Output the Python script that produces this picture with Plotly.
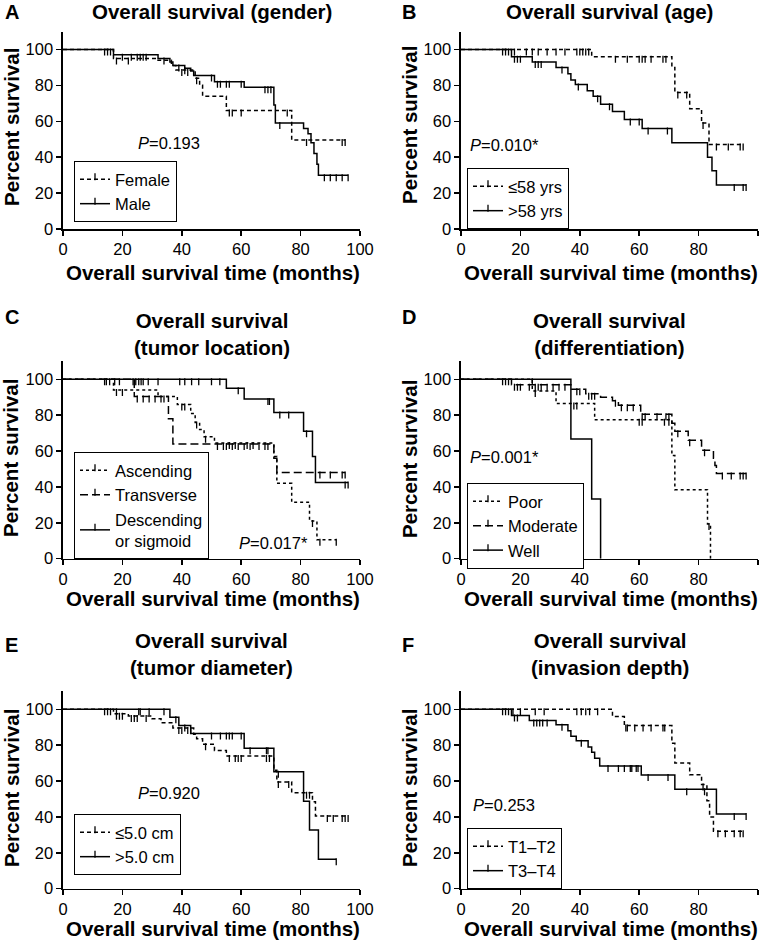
import plotly.graph_objects as go

W, H = 771, 944
FONT = "Liberation Sans, Arial, sans-serif"

# ---------------- data ----------------
titles = ["Overall survival (gender)", "Overall survival (age)",
          "Overall survival<br>(tumor location)", "Overall survival<br>(differentiation)",
          "Overall survival<br>(tumor diameter)", "Overall survival<br>(invasion depth)"]
panel_letters = ["A", "B", "C", "D", "E", "F"]
p_texts = ["<i>P</i>=0.193", "<i>P</i>=0.010*", "<i>P</i>=0.017*",
           "<i>P</i>=0.001*", "<i>P</i>=0.920", "<i>P</i>=0.253"]
p_x = [35.7, 14.5, 71.0, 14.5, 35.7, 14.5]
p_y = [47.9, 46.7, 8.7, 56.7, 53.3, 46.7]
x_ticks = [0, 20, 40, 60, 80, 100]
y_ticks = [0, 20, 40, 60, 80, 100]
x_title = "Overall survival time (months)"
y_title = "Percent survival"

# A: gender
a_female_t = [17, 32, 36.5, 38, 44.5, 46, 47, 55, 77]
a_female_s = [95, 94, 91, 88.5, 84, 80, 74, 66, 49.5]
a_female_c = [18, 22, 40, 42, 45, 56, 57, 60, 75.5, 82, 94, 95]
a_male_t = [17, 32, 36, 37, 41, 43, 44, 51, 61, 71, 71.5, 81, 82.5, 83.5, 84.5, 85.5, 86]
a_male_s = [97, 95, 93, 91, 89.5, 88, 85.5, 82, 79, 69, 59, 56, 53, 48, 42, 36, 30]
a_male_c = [14, 15, 16, 20, 23, 25, 26, 27, 28, 34, 39, 41, 50, 52, 53, 55, 56, 60,
            68, 69, 70, 73, 88, 90, 92, 94, 96]

# B: age
b_young_t = [44, 71, 72, 77, 81, 83.5]
b_young_s = [96, 90, 76, 67, 59, 47]
b_young_c = [14, 15, 16, 18, 22, 24, 26, 29, 32, 35, 39, 40, 41, 42, 43, 52, 56, 60,
             61, 62, 64, 68, 69, 73, 76, 81.5, 86, 90, 94, 95]
b_old_t = [17, 24, 32, 36, 37, 38.5, 42.5, 44.5, 47, 51, 55, 61, 71, 83, 84.5, 86]
b_old_s = [96, 93, 90, 86.5, 83, 80.5, 77, 74, 69.5, 65.5, 61, 56, 48, 40, 32.5, 24.5]
b_old_c = [18, 19, 20, 25, 26, 27, 34, 39.5, 46, 50, 57, 60, 63, 69.5, 92, 95, 96]

# C: tumor location
c_asc_t = [17, 32, 38.5, 43, 44.5, 46, 47.5, 51, 71, 72, 77, 83, 85.5]
c_asc_s = [94, 90.5, 86, 81, 76, 72, 68, 64.5, 57, 42, 31.5, 21, 10.5]
c_asc_c = [18, 20, 34, 40, 41, 45, 48, 56, 58, 62, 64, 84, 86.5, 92]
c_trans_t = [24, 35.5, 37, 71, 72]
c_trans_s = [90.5, 78, 64, 56, 48]
c_trans_c = [25, 27, 29, 31, 33, 52, 54, 55, 57, 59, 61, 63, 66, 68, 69, 86.5, 90, 94, 95]
c_desc_t = [55, 61, 71, 81, 84, 85]
c_desc_s = [95, 89, 81.5, 71, 57, 42.5]
c_desc_c = [14, 14.6, 15.7, 17.4, 19, 23.6, 24.5, 25.5, 26.3, 27, 28.7, 32, 39.3, 41,
            43.3, 45.7, 50, 52.8, 59, 69, 69.5, 73, 76, 82, 95, 96]

# D: differentiation
d_poor_t = [24, 32, 45, 71, 72, 83, 84]
d_poor_s = [93.5, 86.5, 77.5, 57.5, 38.5, 19.3, 0]
d_poor_c = [25, 38, 39, 60, 61, 68.5, 70, 83.5]
d_mod_t = [17, 37, 42, 47, 51, 53, 60.5, 71, 72, 76.5, 81, 85, 85.5, 86]
d_mod_s = [97, 94.5, 92, 90, 88, 85.5, 80.5, 75.5, 71, 66, 60.5, 56, 52, 47.5]
d_mod_c = [14, 15, 16, 18, 19, 20, 23, 25, 26, 27, 29, 31, 33, 35, 39, 40, 43, 44, 45,
           52, 54, 56, 58, 61, 62, 66, 69, 70, 73, 77, 82, 88, 91, 94, 95, 96]
d_well_t = [37, 44, 47]
d_well_s = [66.7, 33.3, 0]
d_well_c = [24]

# E: tumor diameter
e_small_t = [17, 22, 30, 33, 37, 44, 45, 47, 51, 55, 71, 72, 77, 84, 85]
e_small_s = [97.5, 96.3, 94.7, 92.5, 89.5, 86, 83.5, 80.5, 77, 74, 66, 59.5, 53.5, 48.5, 40.5]
e_small_c = [18, 19, 20, 23, 24, 25, 28, 39, 40, 42, 43, 48, 56, 58, 59, 60, 68.5, 69.5,
             72.5, 76, 82, 83, 89, 91, 94, 95, 96]
e_large_t = [36, 39, 43, 61, 71, 81, 83, 86]
e_large_s = [95.5, 91, 86.5, 78.3, 65.2, 48.7, 32.7, 16.4]
e_large_c = [14, 15, 16, 18, 25.5, 26, 29, 34, 38, 41, 50, 53, 55, 56, 57, 60, 63, 68.5,
             69, 72.5, 92]

# F: invasion depth
f_t12_t = [51, 55, 71, 72, 77, 81, 82.8, 83.7, 85]
f_t12_s = [96, 91, 81, 70, 63.5, 58, 49, 40, 32]
f_t12_c = [14, 15, 16, 17.5, 20, 25, 28, 39, 40.5, 42, 43.3, 46, 55.5, 56, 58.5, 61.3,
           64, 68, 68.6, 81.5, 86.5, 89, 92, 94, 95]
f_t34_t = [17, 23, 32, 36, 37, 38.8, 42.8, 44, 45, 46.7, 60.7, 72, 86]
f_t34_s = [96.5, 93.7, 91.3, 88, 85, 82.5, 79, 76, 72.7, 68.4, 63.4, 55.4, 41.6]
f_t34_c = [18, 19, 24.5, 25.5, 26.5, 27.5, 29, 34, 40.5, 49.5, 53, 55, 57, 57.5, 59,
           59.6, 63, 69.7, 76, 82, 92, 96]

SHORT = "4px,3px"
DOT = "3px,3px"
LONG = "8px,4px"
SOLID = "solid"

panels = [
    [("Female", a_female_t, a_female_s, a_female_c, SHORT),
     ("Male", a_male_t, a_male_s, a_male_c, SOLID)],
    [("≤58 yrs", b_young_t, b_young_s, b_young_c, SHORT),
     (">58 yrs", b_old_t, b_old_s, b_old_c, SOLID)],
    [("Ascending", c_asc_t, c_asc_s, c_asc_c, DOT),
     ("Transverse", c_trans_t, c_trans_s, c_trans_c, LONG),
     ("Descending<br>or sigmoid", c_desc_t, c_desc_s, c_desc_c, SOLID)],
    [("Poor", d_poor_t, d_poor_s, d_poor_c, DOT),
     ("Moderate", d_mod_t, d_mod_s, d_mod_c, LONG),
     ("Well", d_well_t, d_well_s, d_well_c, SOLID)],
    [("≤5.0 cm", e_small_t, e_small_s, e_small_c, SHORT),
     (">5.0 cm", e_large_t, e_large_s, e_large_c, SOLID)],
    [("T1–T2", f_t12_t, f_t12_s, f_t12_c, SHORT),
     ("T3–T4", f_t34_t, f_t34_s, f_t34_c, SOLID)],
]

# ---------------- layout geometry (pixels) ----------------
col_x = [(63, 360), (461, 758)]
row_y = [(31.5, 229), (361.4, 558.7), (691.3, 888.7)]   # (top of axis = 110, bottom = 0)
legend_pos = [(74, 161), (467, 168), (74, 452), (467, 483), (74, 814), (467, 828)]
title_y = [12, 12, 334, 334, 654, 654]
letter_y = [12, 12, 317, 317, 645, 645]
xtitle_y = [273, 273, 598, 598, 928, 928]
ytitle_y = [127, 125, 458, 459, 788, 788]
ytitle_x = [11, 409]
letter_x = [3, 400]


def px(x):
    return x / W


def py(y):
    return 1 - y / H


def surv_at(t, times, surv):
    s = 100
    for ti, si in zip(times, surv):
        if ti <= t:
            s = si
    return s


fig = go.Figure()
annotations = []
axis_font = dict(family=FONT, size=16.5, color="black")
tick_marker = dict(symbol="line-ns", size=5, standoff=2.5,
                   line=dict(color="black", width=1.3))

for i, groups in enumerate(panels):
    r, c = divmod(i, 2)
    xa = "x" if i == 0 else f"x{i + 1}"
    ya = "y" if i == 0 else f"y{i + 1}"
    lg = "legend" if i == 0 else f"legend{i + 1}"
    for name, times, surv, cens, dash in groups:
        end = max(max(cens) if cens else 0, times[-1])
        xs = [0] + list(times) + [end]
        ys = [100] + list(surv) + [surv[-1]]
        fig.add_trace(go.Scatter(x=xs, y=ys, mode="lines", line_shape="hv",
                                 line=dict(color="black", width=1.5, dash=dash),
                                 xaxis=xa, yaxis=ya, showlegend=False, hoverinfo="skip"))
        cy = [surv_at(t, times, surv) for t in cens]
        fig.add_trace(go.Scatter(x=cens, y=cy, mode="markers", marker=tick_marker,
                                 xaxis=xa, yaxis=ya, showlegend=False, hoverinfo="skip"))
        fig.add_trace(go.Scatter(x=[None], y=[None], mode="lines+markers", name=name,
                                 line=dict(color="black", width=1.5, dash=dash),
                                 marker=tick_marker,
                                 xaxis=xa, yaxis=ya, legend=lg, showlegend=True))

    x0, x1 = col_x[c]
    y0, y1 = row_y[r]
    axcommon = dict(showline=True, linecolor="black", linewidth=1.6, ticks="outside",
                    ticklen=5, tickwidth=1.5, tickcolor="black", showgrid=False,
                    zeroline=False, tickfont=axis_font, automargin=False)
    fig.layout[("xaxis" if i == 0 else f"xaxis{i + 1}")] = dict(
        domain=[px(x0), px(x1)], range=[0, 100], tickvals=x_ticks, anchor=ya, **axcommon)
    fig.layout[("yaxis" if i == 0 else f"yaxis{i + 1}")] = dict(
        domain=[py(y1), py(y0)], range=[0, 110], tickvals=y_ticks, anchor=xa, **axcommon)

    lx, ly = legend_pos[i]
    fig.layout[lg] = dict(x=px(lx), y=py(ly), xanchor="left", yanchor="top",
                          xref="paper", yref="paper",
                          bordercolor="black", borderwidth=1, bgcolor="white",
                          font=dict(family=FONT, size=16.5, color="black"),
                          tracegroupgap=0, itemclick=False, itemdoubleclick=False)

    cx = (x0 + x1) / 2
    annotations.append(dict(text=f"<b>{titles[i]}</b>", x=px(cx), y=py(title_y[i]),
                            xref="paper", yref="paper", showarrow=False,
                            xanchor="center", yanchor="middle",
                            font=dict(family=FONT, size=20.5, color="black")))
    annotations.append(dict(text=f"<b>{panel_letters[i]}</b>", x=px(letter_x[c]),
                            y=py(letter_y[i]), xref="paper", yref="paper",
                            showarrow=False, xanchor="left", yanchor="middle",
                            font=dict(family=FONT, size=20, color="black")))
    annotations.append(dict(text=f"<b>{x_title}</b>", x=px(cx + 1), y=py(xtitle_y[i]),
                            xref="paper", yref="paper", showarrow=False,
                            xanchor="center", yanchor="middle",
                            font=dict(family=FONT, size=20.5, color="black")))
    annotations.append(dict(text=f"<b>{y_title}</b>", x=px(ytitle_x[c]),
                            y=py(ytitle_y[i]), xref="paper", yref="paper",
                            showarrow=False, textangle=-90,
                            xanchor="center", yanchor="middle",
                            font=dict(family=FONT, size=20.5, color="black")))
    annotations.append(dict(text=p_texts[i], x=p_x[i], y=p_y[i], xref=xa, yref=ya,
                            showarrow=False, xanchor="center", yanchor="middle",
                            font=dict(family=FONT, size=16.5, color="black")))

fig.update_layout(width=W, height=H,
                  margin=dict(l=0, r=0, t=0, b=0, pad=0, autoexpand=False),
                  paper_bgcolor="white", plot_bgcolor="white",
                  annotations=annotations, font=dict(family=FONT, color="black"))

fig.write_html("out.html", config={"displayModeBar": False, "staticPlot": True},
               post_script="document.body.style.margin='0px';"
                           "document.body.style.overflow='hidden';")
